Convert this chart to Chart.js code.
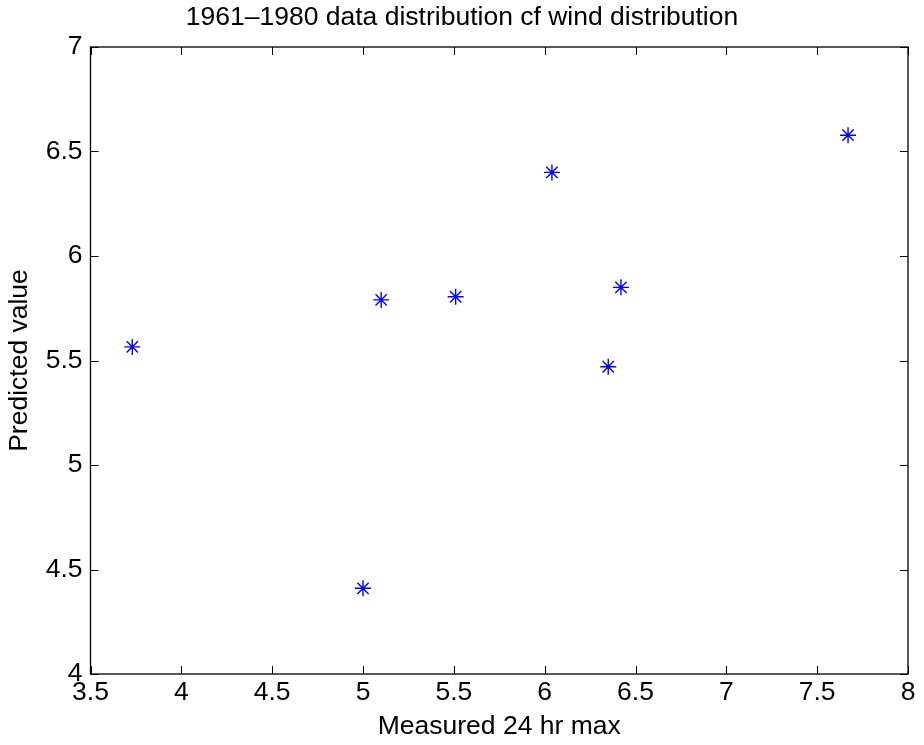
<!DOCTYPE html>
<html>
<head>
<meta charset="utf-8">
<script src="https://cdn.jsdelivr.net/npm/chart.js@4/dist/chart.umd.min.js"></script>
<style>
  html, body { margin: 0; padding: 0; background: #fff; }
  #wrap { width: 924px; height: 745px; }
</style>
</head>
<body>
<div id="wrap"><canvas id="windChart"></canvas></div>
<script>
// values
const measured = [3.73, 5.00, 5.10, 5.51, 6.04, 6.35, 6.42, 7.67];
const predicted = [5.565, 4.41, 5.79, 5.805, 6.40, 5.47, 5.85, 6.578];
const xTicks = [3.5, 4, 4.5, 5, 5.5, 6, 6.5, 7, 7.5, 8];
const yTicks = [4, 4.5, 5, 5.5, 6, 6.5, 7];
const chartTitle = '1961\u20131980 data distribution cf wind distribution';

const FONT = 'Liberation Sans, Arial, Helvetica, sans-serif';
const FSIZE = 26.5;

// matlab style box with inward ticks, plus the title centred on the figure
const boxTicks = {
    id: 'boxTicks',
    afterDraw(chart) {
        const { ctx, chartArea: a, scales: { x, y } } = chart;
        const len = 8;
        ctx.save();
        ctx.strokeStyle = '#000';
        ctx.lineWidth = 1;
        xTicks.forEach(v => {
            const px = Math.round(x.getPixelForValue(v)) + 0.5;
            ctx.beginPath();
            ctx.moveTo(px, a.bottom); ctx.lineTo(px, a.bottom - len);
            ctx.moveTo(px, a.top); ctx.lineTo(px, a.top + len);
            ctx.stroke();
        });
        yTicks.forEach(v => {
            const py = Math.round(y.getPixelForValue(v)) + 0.5;
            ctx.beginPath();
            ctx.moveTo(a.left, py); ctx.lineTo(a.left + len, py);
            ctx.moveTo(a.right, py); ctx.lineTo(a.right - len, py);
            ctx.stroke();
        });
        ctx.lineWidth = 1.3;
        ctx.strokeRect(a.left, a.top, a.right - a.left, a.bottom - a.top);

        ctx.fillStyle = '#000';
        ctx.font = FSIZE + 'px ' + FONT;
        ctx.textAlign = 'center';
        ctx.textBaseline = 'middle';
        ctx.fillText(chartTitle, chart.width / 2, 18);
        ctx.restore();
    }
};

const ctx = document.getElementById('windChart').getContext('2d');
new Chart(ctx, {
    type: 'scatter',
    data: {
        datasets: [{
            data: measured.map((m, i) => ({ x: m, y: predicted[i] })),
            pointStyle: 'star',
            pointRadius: 8,
            pointHoverRadius: 8,
            borderColor: '#0000ff',
            backgroundColor: '#0000ff',
            borderWidth: 1.4
        }]
    },
    options: {
        responsive: true,
        maintainAspectRatio: false,
        animation: false,
        layout: { padding: { left: 0, right: 16, top: 47, bottom: 0 } },
        plugins: {
            legend: { display: false },
            tooltip: { enabled: false },
            title: { display: false }
        },
        scales: {
            x: {
                type: 'linear',
                min: 3.5,
                max: 8,
                afterBuildTicks: s => { s.ticks = xTicks.map(v => ({ value: v })); },
                afterFit: s => { s.height = 71; },
                grid: { display: false, drawTicks: false },
                border: { display: false },
                ticks: {
                    color: '#000',
                    padding: 3,
                    maxRotation: 0,
                    font: { family: FONT, size: FSIZE },
                    callback: v => String(v)
                },
                title: {
                    display: true,
                    text: 'Measured 24 hr max',
                    color: '#000',
                    font: { family: FONT, size: FSIZE },
                    padding: { top: 0, bottom: 2 }
                }
            },
            y: {
                type: 'linear',
                min: 4,
                max: 7,
                afterBuildTicks: s => { s.ticks = yTicks.map(v => ({ value: v })); },
                afterFit: s => { s.width = 90.5; },
                grid: { display: false, drawTicks: false },
                border: { display: false },
                ticks: {
                    color: '#000',
                    padding: 8,
                    font: { family: FONT, size: FSIZE },
                    callback: v => String(v)
                },
                title: {
                    display: true,
                    text: 'Predicted value',
                    color: '#000',
                    font: { family: FONT, size: FSIZE },
                    padding: { top: 4, bottom: 0 }
                }
            }
        }
    },
    plugins: [boxTicks]
});
</script>
</body>
</html>
